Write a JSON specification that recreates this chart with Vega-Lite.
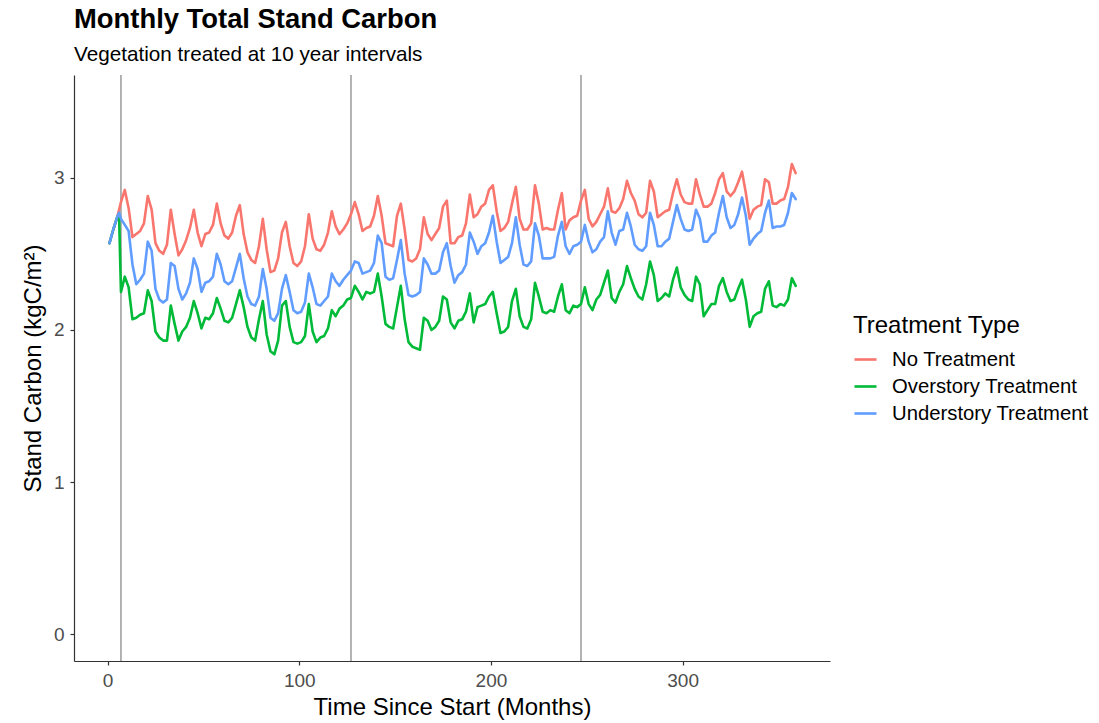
{
  "$schema": "https://vega.github.io/schema/vega-lite/v6.json",
  "width": 756,
  "height": 586,
  "autosize": {"type": "none"},
  "padding": {"left": 74, "top": 75, "right": 269, "bottom": 62},
  "background": "white",
  "config": {
    "view": {"stroke": null},
    "font": "Liberation Sans",
    "axis": {
      "grid": false,
      "domainColor": "#333333",
      "domainWidth": 1.2,
      "tickColor": "#333333",
      "tickWidth": 1.2,
      "tickSize": 4,
      "labelColor": "#4D4D4D",
      "labelFontSize": 19,
      "labelFont": "Liberation Sans",
      "titleFont": "Liberation Sans",
      "titleFontSize": 24,
      "titleFontWeight": "normal",
      "titleColor": "black"
    }
  },
  "title": {
    "text": "Monthly Total Stand Carbon",
    "subtitle": "Vegetation treated at 10 year intervals",
    "anchor": "start",
    "frame": "group",
    "font": "Liberation Sans",
    "subtitleFont": "Liberation Sans",
    "fontSize": 27.4,
    "fontWeight": "bold",
    "color": "black",
    "subtitleFontSize": 20.7,
    "subtitleColor": "black",
    "offset": 10,
    "subtitlePadding": 11
  },
  "datasets": {
    "types": [
      {"k": "N", "t": "No Treatment"},
      {"k": "O", "t": "Overstory Treatment"},
      {"k": "U", "t": "Understory Treatment"}
    ],
    "treat": [{"m": 7}, {"m": 127}, {"m": 247}],
    "carbon": [
      {"m":1,"N":2.57,"O":2.57,"U":2.57},
      {"m":3,"N":2.66,"O":2.66,"U":2.66},
      {"m":5,"N":2.74,"O":2.74,"U":2.74},
      {"m":6,"N":2.79,"O":2.76,"U":2.77},
      {"m":7,"N":2.84,"O":2.25,"U":2.73},
      {"m":9,"N":2.92,"O":2.35,"U":2.69},
      {"m":11,"N":2.80,"O":2.28,"U":2.65},
      {"m":13,"N":2.61,"O":2.07,"U":2.43},
      {"m":15,"N":2.63,"O":2.08,"U":2.30},
      {"m":17,"N":2.65,"O":2.10,"U":2.33},
      {"m":19,"N":2.70,"O":2.11,"U":2.37},
      {"m":21,"N":2.88,"O":2.26,"U":2.58},
      {"m":23,"N":2.79,"O":2.19,"U":2.52},
      {"m":25,"N":2.57,"O":1.99,"U":2.27},
      {"m":27,"N":2.52,"O":1.95,"U":2.20},
      {"m":29,"N":2.50,"O":1.93,"U":2.18},
      {"m":31,"N":2.56,"O":1.93,"U":2.20},
      {"m":33,"N":2.79,"O":2.16,"U":2.44},
      {"m":35,"N":2.63,"O":2.04,"U":2.42},
      {"m":37,"N":2.49,"O":1.93,"U":2.27},
      {"m":39,"N":2.53,"O":1.99,"U":2.20},
      {"m":41,"N":2.59,"O":2.02,"U":2.24},
      {"m":43,"N":2.67,"O":2.08,"U":2.31},
      {"m":45,"N":2.79,"O":2.19,"U":2.47},
      {"m":47,"N":2.64,"O":2.11,"U":2.40},
      {"m":49,"N":2.55,"O":2.01,"U":2.25},
      {"m":51,"N":2.63,"O":2.08,"U":2.31},
      {"m":53,"N":2.64,"O":2.07,"U":2.32},
      {"m":55,"N":2.69,"O":2.11,"U":2.35},
      {"m":57,"N":2.83,"O":2.21,"U":2.50},
      {"m":59,"N":2.70,"O":2.14,"U":2.43},
      {"m":61,"N":2.62,"O":2.06,"U":2.32},
      {"m":63,"N":2.60,"O":2.05,"U":2.30},
      {"m":65,"N":2.64,"O":2.08,"U":2.32},
      {"m":67,"N":2.75,"O":2.17,"U":2.41},
      {"m":69,"N":2.82,"O":2.26,"U":2.50},
      {"m":71,"N":2.63,"O":2.15,"U":2.34},
      {"m":73,"N":2.51,"O":2.02,"U":2.22},
      {"m":75,"N":2.46,"O":1.95,"U":2.17},
      {"m":77,"N":2.44,"O":1.93,"U":2.16},
      {"m":79,"N":2.55,"O":2.07,"U":2.22},
      {"m":81,"N":2.73,"O":2.19,"U":2.40},
      {"m":83,"N":2.53,"O":1.97,"U":2.27},
      {"m":85,"N":2.38,"O":1.86,"U":2.08},
      {"m":87,"N":2.39,"O":1.84,"U":2.06},
      {"m":89,"N":2.47,"O":1.93,"U":2.11},
      {"m":91,"N":2.64,"O":2.16,"U":2.27},
      {"m":93,"N":2.71,"O":2.19,"U":2.36},
      {"m":95,"N":2.55,"O":2.02,"U":2.25},
      {"m":97,"N":2.44,"O":1.92,"U":2.13},
      {"m":99,"N":2.42,"O":1.91,"U":2.11},
      {"m":101,"N":2.45,"O":1.92,"U":2.12},
      {"m":103,"N":2.55,"O":1.96,"U":2.18},
      {"m":105,"N":2.76,"O":2.17,"U":2.37},
      {"m":107,"N":2.60,"O":1.99,"U":2.28},
      {"m":109,"N":2.53,"O":1.92,"U":2.17},
      {"m":111,"N":2.52,"O":1.95,"U":2.16},
      {"m":113,"N":2.56,"O":1.96,"U":2.19},
      {"m":115,"N":2.64,"O":2.01,"U":2.22},
      {"m":117,"N":2.78,"O":2.13,"U":2.37},
      {"m":119,"N":2.68,"O":2.09,"U":2.32},
      {"m":121,"N":2.63,"O":2.14,"U":2.29},
      {"m":123,"N":2.66,"O":2.16,"U":2.33},
      {"m":125,"N":2.70,"O":2.20,"U":2.36},
      {"m":127,"N":2.76,"O":2.21,"U":2.39},
      {"m":129,"N":2.84,"O":2.29,"U":2.45},
      {"m":131,"N":2.76,"O":2.25,"U":2.44},
      {"m":133,"N":2.65,"O":2.20,"U":2.37},
      {"m":135,"N":2.67,"O":2.25,"U":2.38},
      {"m":137,"N":2.68,"O":2.24,"U":2.39},
      {"m":139,"N":2.75,"O":2.25,"U":2.44},
      {"m":141,"N":2.88,"O":2.37,"U":2.62},
      {"m":143,"N":2.75,"O":2.22,"U":2.57},
      {"m":145,"N":2.57,"O":2.04,"U":2.35},
      {"m":147,"N":2.56,"O":2.02,"U":2.33},
      {"m":149,"N":2.55,"O":2.01,"U":2.34},
      {"m":151,"N":2.75,"O":2.15,"U":2.46},
      {"m":153,"N":2.83,"O":2.29,"U":2.59},
      {"m":155,"N":2.66,"O":2.07,"U":2.37},
      {"m":157,"N":2.46,"O":1.92,"U":2.23},
      {"m":159,"N":2.45,"O":1.89,"U":2.22},
      {"m":161,"N":2.47,"O":1.88,"U":2.23},
      {"m":163,"N":2.53,"O":1.87,"U":2.25},
      {"m":165,"N":2.74,"O":2.08,"U":2.47},
      {"m":167,"N":2.63,"O":2.06,"U":2.43},
      {"m":169,"N":2.59,"O":2.00,"U":2.37},
      {"m":171,"N":2.63,"O":2.02,"U":2.37},
      {"m":173,"N":2.67,"O":2.06,"U":2.39},
      {"m":175,"N":2.81,"O":2.22,"U":2.51},
      {"m":177,"N":2.85,"O":2.20,"U":2.57},
      {"m":179,"N":2.57,"O":2.05,"U":2.42},
      {"m":181,"N":2.57,"O":2.01,"U":2.31},
      {"m":183,"N":2.61,"O":2.06,"U":2.36},
      {"m":185,"N":2.62,"O":2.07,"U":2.38},
      {"m":187,"N":2.70,"O":2.12,"U":2.43},
      {"m":189,"N":2.89,"O":2.24,"U":2.64},
      {"m":191,"N":2.74,"O":2.05,"U":2.58},
      {"m":193,"N":2.76,"O":2.15,"U":2.50},
      {"m":195,"N":2.81,"O":2.16,"U":2.55},
      {"m":197,"N":2.83,"O":2.17,"U":2.57},
      {"m":199,"N":2.92,"O":2.22,"U":2.64},
      {"m":201,"N":2.95,"O":2.25,"U":2.75},
      {"m":203,"N":2.78,"O":2.11,"U":2.58},
      {"m":205,"N":2.65,"O":1.98,"U":2.44},
      {"m":207,"N":2.67,"O":1.99,"U":2.46},
      {"m":209,"N":2.71,"O":2.02,"U":2.48},
      {"m":211,"N":2.83,"O":2.19,"U":2.57},
      {"m":213,"N":2.94,"O":2.27,"U":2.74},
      {"m":215,"N":2.73,"O":2.09,"U":2.56},
      {"m":217,"N":2.66,"O":2.02,"U":2.43},
      {"m":219,"N":2.66,"O":2.01,"U":2.42},
      {"m":221,"N":2.70,"O":2.07,"U":2.45},
      {"m":223,"N":2.95,"O":2.31,"U":2.70},
      {"m":225,"N":2.83,"O":2.22,"U":2.62},
      {"m":227,"N":2.66,"O":2.12,"U":2.47},
      {"m":229,"N":2.67,"O":2.11,"U":2.47},
      {"m":231,"N":2.66,"O":2.13,"U":2.47},
      {"m":233,"N":2.66,"O":2.12,"U":2.48},
      {"m":235,"N":2.79,"O":2.22,"U":2.62},
      {"m":237,"N":2.90,"O":2.30,"U":2.71},
      {"m":239,"N":2.66,"O":2.13,"U":2.55},
      {"m":241,"N":2.72,"O":2.11,"U":2.50},
      {"m":243,"N":2.74,"O":2.16,"U":2.55},
      {"m":245,"N":2.75,"O":2.15,"U":2.56},
      {"m":247,"N":2.85,"O":2.17,"U":2.58},
      {"m":249,"N":2.92,"O":2.28,"U":2.69},
      {"m":251,"N":2.73,"O":2.17,"U":2.58},
      {"m":253,"N":2.68,"O":2.13,"U":2.51},
      {"m":255,"N":2.71,"O":2.20,"U":2.53},
      {"m":257,"N":2.76,"O":2.23,"U":2.58},
      {"m":259,"N":2.81,"O":2.31,"U":2.61},
      {"m":261,"N":2.93,"O":2.39,"U":2.78},
      {"m":263,"N":2.78,"O":2.21,"U":2.64},
      {"m":265,"N":2.77,"O":2.18,"U":2.56},
      {"m":267,"N":2.80,"O":2.25,"U":2.65},
      {"m":269,"N":2.86,"O":2.30,"U":2.66},
      {"m":271,"N":2.98,"O":2.42,"U":2.77},
      {"m":273,"N":2.90,"O":2.34,"U":2.68},
      {"m":275,"N":2.85,"O":2.27,"U":2.56},
      {"m":277,"N":2.76,"O":2.22,"U":2.53},
      {"m":279,"N":2.74,"O":2.20,"U":2.52},
      {"m":281,"N":2.77,"O":2.30,"U":2.55},
      {"m":283,"N":2.98,"O":2.45,"U":2.77},
      {"m":285,"N":2.91,"O":2.36,"U":2.69},
      {"m":287,"N":2.74,"O":2.19,"U":2.55},
      {"m":289,"N":2.76,"O":2.21,"U":2.55},
      {"m":291,"N":2.78,"O":2.24,"U":2.58},
      {"m":293,"N":2.79,"O":2.22,"U":2.60},
      {"m":295,"N":2.90,"O":2.33,"U":2.71},
      {"m":297,"N":2.99,"O":2.41,"U":2.82},
      {"m":299,"N":2.89,"O":2.28,"U":2.73},
      {"m":301,"N":2.84,"O":2.23,"U":2.66},
      {"m":303,"N":2.83,"O":2.20,"U":2.65},
      {"m":305,"N":2.83,"O":2.19,"U":2.66},
      {"m":307,"N":2.99,"O":2.35,"U":2.79},
      {"m":309,"N":2.89,"O":2.30,"U":2.73},
      {"m":311,"N":2.81,"O":2.09,"U":2.58},
      {"m":313,"N":2.81,"O":2.13,"U":2.58},
      {"m":315,"N":2.83,"O":2.17,"U":2.62},
      {"m":317,"N":2.90,"O":2.17,"U":2.64},
      {"m":319,"N":2.99,"O":2.29,"U":2.77},
      {"m":321,"N":3.03,"O":2.34,"U":2.88},
      {"m":323,"N":2.91,"O":2.25,"U":2.74},
      {"m":325,"N":2.88,"O":2.19,"U":2.67},
      {"m":327,"N":2.91,"O":2.20,"U":2.69},
      {"m":329,"N":2.97,"O":2.27,"U":2.76},
      {"m":331,"N":3.04,"O":2.33,"U":2.87},
      {"m":333,"N":2.90,"O":2.20,"U":2.75},
      {"m":335,"N":2.73,"O":2.02,"U":2.56},
      {"m":337,"N":2.79,"O":2.09,"U":2.60},
      {"m":339,"N":2.81,"O":2.11,"U":2.63},
      {"m":341,"N":2.82,"O":2.12,"U":2.65},
      {"m":343,"N":2.99,"O":2.27,"U":2.77},
      {"m":345,"N":2.97,"O":2.32,"U":2.85},
      {"m":347,"N":2.83,"O":2.16,"U":2.67},
      {"m":349,"N":2.83,"O":2.15,"U":2.68},
      {"m":351,"N":2.85,"O":2.17,"U":2.68},
      {"m":353,"N":2.86,"O":2.16,"U":2.69},
      {"m":355,"N":2.94,"O":2.20,"U":2.77},
      {"m":357,"N":3.09,"O":2.34,"U":2.90},
      {"m":359,"N":3.03,"O":2.29,"U":2.86}
    ]
  },
  "layer": [
    {
      "data": {"name": "treat"},
      "mark": {"type": "rule", "color": "#808080", "strokeWidth": 1.2},
      "encoding": {
        "x": {"field": "m", "type": "quantitative", "scale": {"domain": [-17.5, 376.9], "nice": false, "zero": false}}
      }
    },
    {
      "data": {"name": "carbon"},
      "transform": [
        {"fold": ["N", "O", "U"], "as": ["k", "value"]},
        {"lookup": "k", "from": {"data": {"name": "types"}, "key": "k", "fields": ["t"]}}
      ],
      "mark": {"type": "line", "strokeWidth": 2.6, "strokeJoin": "round", "strokeCap": "round"},
      "encoding": {
        "x": {
          "field": "m",
          "type": "quantitative",
          "scale": {"domain": [-17.5, 376.9], "nice": false, "zero": false},
          "axis": {"values": [0, 100, 200, 300], "title": "Time Since Start (Months)", "labelPadding": 6, "titlePadding": 5}
        },
        "y": {
          "field": "value",
          "type": "quantitative",
          "scale": {"domain": [-0.175, 3.675], "nice": false, "zero": false},
          "axis": {"values": [0, 1, 2, 3], "title": "Stand Carbon (kgC/m²)", "labelPadding": 6, "titlePadding": 8}
        },
        "color": {
          "field": "t",
          "type": "nominal",
          "scale": {
            "domain": ["No Treatment", "Overstory Treatment", "Understory Treatment"],
            "range": ["#F8766D", "#00BA38", "#619CFF"]
          },
          "legend": {
            "title": "Treatment Type",
            "orient": "none",
            "legendX": 779,
            "legendY": 239,
            "padding": 0,
            "titleFont": "Liberation Sans",
            "titleFontSize": 24,
            "titleFontWeight": "normal",
            "titleColor": "black",
            "titlePadding": 9,
            "titleLimit": 300,
            "labelFont": "Liberation Sans",
            "labelFontSize": 20.3,
            "labelColor": "black",
            "labelLimit": 300,
            "labelOffset": 14,
            "symbolType": "stroke",
            "symbolSize": 484,
            "symbolStrokeWidth": 2.6,
            "rowPadding": 4
          }
        },
        "detail": {"field": "k"}
      }
    }
  ]
}
